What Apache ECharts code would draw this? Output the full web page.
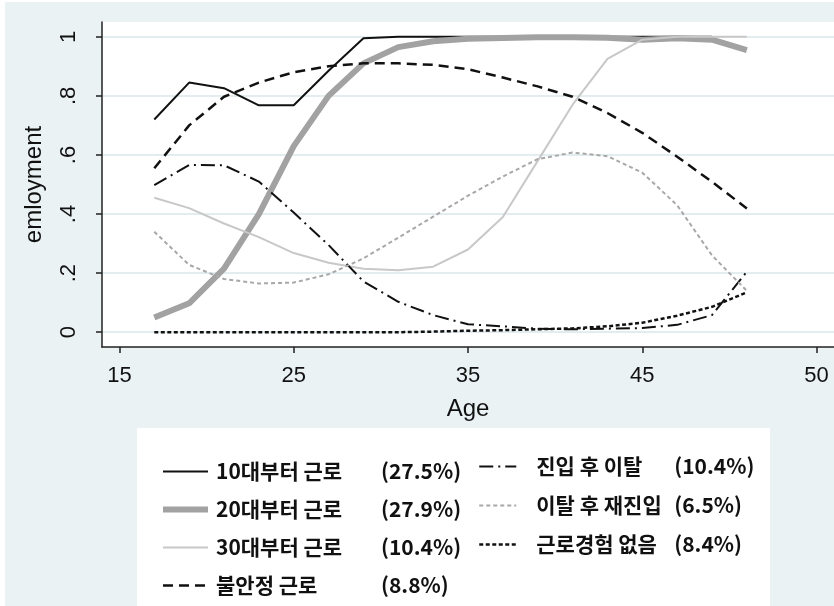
<!DOCTYPE html>
<html>
<head>
<meta charset="utf-8">
<script src="https://cdn.jsdelivr.net/npm/echarts@6/dist/echarts.min.js"></script>
<style>
  html, body { margin: 0; padding: 0; background: #ffffff; }
  #chart { width: 834px; height: 606px; }
</style>
</head>
<body>
<div id="chart"></div>
<script>
// Employment probability by age for seven work-history trajectory groups
const ages = [17, 19, 21, 23, 25, 27, 29, 31, 33, 35, 37, 39, 41, 43, 45, 47, 49, 51];

const workFromTeens    = [0.72, 0.845, 0.826, 0.768, 0.768, 0.885, 0.995, 1.0, 1.0, 1.0, 1.0, 1.0, 1.0, 1.0, 1.0, 1.0, 1.0, null];
const workFromTwenties = [0.05, 0.098, 0.215, 0.40, 0.63, 0.80, 0.91, 0.965, 0.985, 0.993, 0.996, 0.998, 0.998, 0.997, 0.99, 0.995, 0.99, 0.955];
const workFromThirties = [0.455, 0.42, 0.368, 0.322, 0.268, 0.235, 0.215, 0.21, 0.222, 0.28, 0.39, 0.58, 0.77, 0.925, 0.99, 1.0, 1.0, 1.0];
const unstableWork     = [0.555, 0.70, 0.797, 0.845, 0.88, 0.90, 0.91, 0.91, 0.905, 0.89, 0.862, 0.832, 0.797, 0.742, 0.675, 0.594, 0.509, 0.419];
const entryThenExit    = [0.498, 0.566, 0.565, 0.51, 0.405, 0.295, 0.172, 0.103, 0.058, 0.027, 0.02, 0.012, 0.01, 0.012, 0.014, 0.025, 0.058, 0.205];
const exitThenReentry  = [0.34, 0.228, 0.18, 0.165, 0.168, 0.196, 0.25, 0.32, 0.391, 0.462, 0.527, 0.586, 0.608, 0.596, 0.54, 0.43, 0.26, 0.14];
const neverWorked      = [0, 0, 0, 0, 0, 0, 0, 0, 0.002, 0.005, 0.007, 0.01, 0.013, 0.02, 0.032, 0.056, 0.086, 0.135];

const groupNames  = ['10대부터 근로', '20대부터 근로', '30대부터 근로', '불안정 근로', '진입 후 이탈', '이탈 후 재진입', '근로경험 없음'];
const groupShares = ['(27.5%)', '(27.9%)', '(10.4%)', '(8.8%)', '(10.4%)', '(6.5%)', '(8.4%)'];

const xTickValues = [15, 25, 35, 45, 55];
const xTickLabels = ['15', '25', '35', '45', '50'];
const yTickValues = [0, 0.2, 0.4, 0.6, 0.8, 1];
const yTickLabels = ['0', '.2', '.4', '.6', '.8', '1'];

const seriesValues = [workFromTeens, workFromTwenties, workFromThirties, unstableWork, entryThenExit, exitThenReentry, neverWorked];

// line look per group
const lineLooks = [
  { color: '#111111', width: 2,   type: 'solid' },
  { color: '#a2a2a2', width: 6,   type: 'solid' },
  { color: '#c8c8c8', width: 2,   type: 'solid' },
  { color: '#111111', width: 2.5, type: [10, 6] },
  { color: '#111111', width: 2,   type: [14, 5, 2, 5] },
  { color: '#a8a8a8', width: 2,   type: [4, 3] },
  { color: '#111111', width: 2.5, type: [4, 2.5] }
];

const shareOf = name => groupShares[groupNames.indexOf(name)];
const axisFont = 'Liberation Sans, Arial, sans-serif';
const legendFont = '"Noto Sans CJK KR", "Liberation Sans", sans-serif';

function legendBlock(names, left, top, iconW, gap, nameW, textPad) {
  const txt = { fontSize: 21, fontWeight: 'bold', fontFamily: legendFont, color: '#111', lineHeight: 20 };
  return {
    data: names,
    orient: 'vertical',
    left: left,
    top: top,
    padding: 0,
    itemWidth: iconW,
    itemHeight: 14,
    itemGap: gap,
    selectedMode: false,
    itemStyle: { opacity: 0, borderWidth: 0 },
    lineStyle: { width: 'inherit' },
    formatter: name => '{n|' + name + '}{p|' + shareOf(name) + '}',
    textStyle: {
      padding: [0, 0, 0, textPad],
      rich: {
        n: Object.assign({ width: nameW }, txt),
        p: Object.assign({}, txt)
      }
    }
  };
}

const option = {
  animation: false,
  backgroundColor: '#eaf2f3',
  grid: { left: 102, top: 22, right: 0, bottom: 259, show: true, backgroundColor: '#ffffff', borderWidth: 0 },
  graphic: [
    { type: 'rect', left: 137, top: 428, z: 1, shape: { width: 633, height: 178 }, style: { fill: '#ffffff' } },
    { type: 'rect', left: 0, top: 0, z: 1, shape: { width: 5, height: 606 }, style: { fill: '#ffffff' } },
    { type: 'rect', left: 0, top: 0, z: 1, shape: { width: 834, height: 2 }, style: { fill: '#ffffff' } }
  ],
  legend: [
    legendBlock(groupNames.slice(0, 4), 160, 461, 45, 17, 165, 3),
    legendBlock(groupNames.slice(4), 478, 456, 37, 18, 138, 15)
  ],
  xAxis: {
    type: 'value', min: 14, max: 56,
    name: 'Age', nameLocation: 'middle', nameGap: 50,
    nameTextStyle: { fontFamily: axisFont, fontSize: 24, color: '#111' },
    axisLine: { show: true, onZero: false, lineStyle: { color: '#222', width: 1.5 } },
    axisTick: { show: true, customValues: xTickValues, length: 6, lineStyle: { color: '#222', width: 1.5 } },
    axisLabel: {
      customValues: xTickValues, margin: 18, fontSize: 22, color: '#111', fontFamily: axisFont,
      formatter: v => xTickLabels[xTickValues.indexOf(v)]
    },
    splitLine: { show: false }
  },
  yAxis: {
    type: 'value', min: -0.05, max: 1.05,
    name: 'emloyment', nameLocation: 'middle', nameGap: 56,
    nameTextStyle: { fontFamily: axisFont, fontSize: 24, color: '#111' },
    axisLine: { show: true, onZero: false, lineStyle: { color: '#222', width: 1.5 } },
    axisTick: { show: true, customValues: yTickValues, length: 6, lineStyle: { color: '#222', width: 1.5 } },
    axisLabel: {
      customValues: yTickValues, rotate: 90, margin: 22, fontSize: 22, color: '#111', fontFamily: axisFont,
      formatter: v => {
        const i = yTickValues.findIndex(t => Math.abs(t - v) < 1e-6);
        return i >= 0 ? yTickLabels[i] : '';
      }
    },
    splitLine: { show: true, lineStyle: { color: '#e3edf0', width: 2 } }
  },
  series: groupNames.map((name, k) => ({
    name: name,
    type: 'line',
    symbol: 'none',
    smooth: false,
    connectNulls: false,
    z: 2 + k,
    lineStyle: { color: lineLooks[k].color, width: lineLooks[k].width, type: lineLooks[k].type, cap: 'butt' },
    itemStyle: { color: lineLooks[k].color },
    data: ages.map((a, i) => [a, seriesValues[k][i]])
  }))
};

const chart = echarts.init(document.getElementById('chart'), null, { renderer: 'canvas' });
chart.setOption(option);
</script>
</body>
</html>
